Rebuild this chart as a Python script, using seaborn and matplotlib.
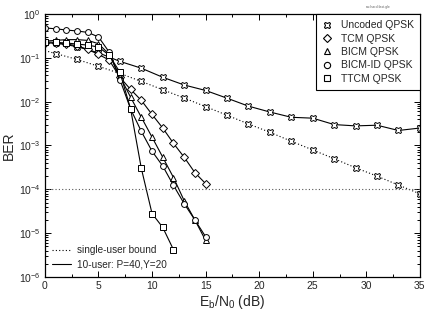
import numpy as np
import pandas as pd
import matplotlib
matplotlib.use("Agg")
import matplotlib.pyplot as plt
import seaborn as sns
from matplotlib.lines import Line2D
from matplotlib.ticker import FixedLocator, MultipleLocator, NullFormatter

# data (BER vs Eb/N0 in dB)
snr_coded = list(range(0, 16))
snr_ttcm = list(range(0, 13))
snr_unc = list(range(1, 36, 2))

ber_ttcm = [0.23, 0.225, 0.218, 0.206, 0.195, 0.176, 0.115, 0.047, 0.0068,
            3.0e-4, 2.8e-5, 1.35e-5, 4.2e-6]
ber_bicmid = [0.48, 0.46, 0.43, 0.41, 0.38, 0.30, 0.135, 0.032, 0.0068, 0.0021,
              7.4e-4, 3.4e-4, 1.23e-4, 4.7e-5, 2.0e-5, 8.3e-6]
ber_bicm = [0.24, 0.25, 0.26, 0.26, 0.25, 0.21, 0.12, 0.038, 0.0126, 0.0044,
            0.00155, 5.4e-4, 1.86e-4, 5.5e-5, 2.0e-5, 6.8e-6]
ber_tcm = [0.22, 0.215, 0.205, 0.19, 0.155, 0.12, 0.089, 0.036, 0.019, 0.0107,
           0.0051, 0.0025, 0.00112, 5.4e-4, 2.4e-4, 1.35e-4]
ber_unc_multi = [0.22, 0.18, 0.13, 0.083, 0.058, 0.036, 0.024, 0.018, 0.012,
                 0.0079, 0.0058, 0.0044, 0.0042, 0.003, 0.0028, 0.0029, 0.0022, 0.0025]
snr_unc_single = [0] + snr_unc
ber_unc_single = [0.146, 0.125, 0.092, 0.064, 0.044, 0.029, 0.0187, 0.0121, 0.0077,
                  0.0049, 0.0031, 0.002, 0.00125, 0.00079, 0.0005, 0.00031,
                  0.0002, 0.000125, 7.9e-5]
ref_ber = 1e-4
y_ticks = [1e-6, 1e-5, 1e-4, 1e-3, 1e-2, 1e-1, 1]

legend_names = ["Uncoded QPSK", "TCM QPSK", "BICM QPSK", "BICM-ID QPSK", "TTCM QPSK"]
legend_marks = ["X", "D", "^", "o", "s"]

sns.set_style("ticks")
plt.rcParams["font.family"] = ["Liberation Sans", "DejaVu Sans"]
plt.rcParams["mathtext.fontset"] = "custom"
plt.rcParams["mathtext.rm"] = "Liberation Sans"
plt.rcParams["mathtext.it"] = "Liberation Sans:italic"

fig = plt.figure(figsize=(4.36, 3.18), dpi=100)
ax = fig.add_axes([0.103, 0.129, 0.860, 0.827])

mk = dict(color="black", markerfacecolor="white", markeredgecolor="black",
          markeredgewidth=0.7, linewidth=0.8)

dot = (0, (1, 2))
sns.lineplot(x=snr_unc_single, y=ber_unc_single, ax=ax, sort=False, estimator=None,
             linestyle=dot, marker="X", markersize=5, markevery=slice(1, None),
             **mk)
sns.lineplot(x=snr_unc, y=ber_unc_multi, ax=ax, sort=False, estimator=None,
             marker="X", markersize=5, **mk)
sns.lineplot(x=snr_coded, y=ber_tcm, ax=ax, sort=False, estimator=None,
             marker="D", markersize=3.6, **mk)
sns.lineplot(x=snr_coded, y=ber_bicm, ax=ax, sort=False, estimator=None,
             marker="^", markersize=4.2, **mk)
sns.lineplot(x=snr_coded, y=ber_bicmid, ax=ax, sort=False, estimator=None,
             marker="o", markersize=4.2, **mk)
sns.lineplot(x=snr_ttcm, y=ber_ttcm, ax=ax, sort=False, estimator=None,
             marker="s", markersize=4.2, **mk)
ax.axhline(ref_ber, color="#555555", linestyle=dot, linewidth=0.8)

ax.set_yscale("log")
ax.set_xlim(0, 35)
ax.set_ylim(1e-6, 1)
ax.xaxis.set_major_locator(MultipleLocator(5))
ax.xaxis.set_minor_locator(MultipleLocator(2.5))
ax.yaxis.set_major_locator(FixedLocator(y_ticks))
minors = [m * t for t in y_ticks[:-1] for m in range(2, 10)]
ax.yaxis.set_minor_locator(FixedLocator(minors))
ax.yaxis.set_minor_formatter(NullFormatter())
ax.tick_params(which="both", direction="in", top=True, right=True, labelsize=7.5,
               width=0.7, color="black", pad=3)
ax.tick_params(which="major", length=4)
ax.tick_params(which="minor", length=2)
for s in ax.spines.values():
    s.set_linewidth(0.9)
    s.set_color("black")

ax.set_xlabel(r"E$_\mathrm{b}$/N$_0$ (dB)", fontsize=10, labelpad=1)
ax.set_ylabel("BER", fontsize=10, labelpad=2)

# marker legend (upper right)
h1 = [Line2D([], [], linestyle="none", marker=m, markersize=5 if m == "X" else 4.5,
             markerfacecolor="white", markeredgecolor="black", markeredgewidth=0.8)
      for m in legend_marks]
leg1 = ax.legend(h1, legend_names, loc="upper right", fontsize=7.5, frameon=True,
                 fancybox=False, edgecolor="black", framealpha=1, borderpad=0.6,
                 labelspacing=0.32, handletextpad=0.8, handlelength=1.0,
                 borderaxespad=0)
leg1.get_frame().set_linewidth(0.8)
ax.add_artist(leg1)

# line style legend (lower left)
h2 = [Line2D([], [], color="black", linestyle=dot, linewidth=0.8),
      Line2D([], [], color="black", linewidth=0.8)]
ax.legend(h2, ["single-user bound", "10-user: P=40,Y=20"], loc="lower left",
          fontsize=7.2, frameon=False, handlelength=1.9, labelspacing=0.45,
          handletextpad=0.6, borderaxespad=0.3)

fig.text(0.84, 0.975, "cw-hard-fast.gle", fontsize=2.5, color="#666666")

fig.savefig("out.png", dpi=100)
